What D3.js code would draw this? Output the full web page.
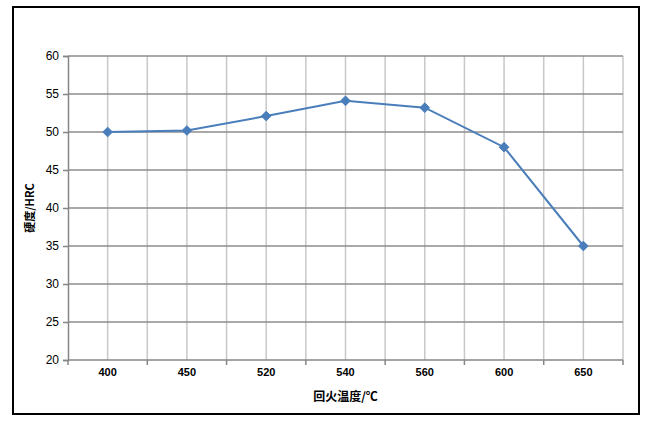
<!DOCTYPE html>
<html>
<head>
<meta charset="utf-8">
<script src="https://cdn.jsdelivr.net/npm/d3@7/dist/d3.min.js"></script>
<style>
html,body{margin:0;padding:0;background:#fff;}
svg{display:block;}
</style>
</head>
<body>
<svg id="chart" width="650" height="422"></svg>
<script>
const categories = ["400","450","520","540","560","600","650"];
const hardness = [50, 50.2, 52.1, 54.1, 53.2, 48, 35];
const yTicks = [20, 25, 30, 35, 40, 45, 50, 55, 60];
const xTitle = "回火温度/℃";
const yTitle = "硬度/HRC";

const svg = d3.select("#chart");
const m = {left: 68, right: 623, top: 56, bottom: 360};

// outer frame
svg.append("rect").attr("x", 13).attr("y", 7).attr("width", 626).attr("height", 407)
  .attr("fill", "#fff").attr("stroke", "#000").attr("stroke-width", 2);

const x = d3.scaleBand().domain(categories).range([m.left, m.right]).padding(0);
const y = d3.scaleLinear().domain([20, 60]).range([m.bottom, m.top]);

const g = svg.append("g");

const bounds = categories.map(c => x(c)).concat([m.right]);
const centers = categories.map(c => x(c) + x.bandwidth() / 2);
g.selectAll("line.vb").data(bounds.slice(1)).enter().append("line")
  .attr("x1", d => d).attr("x2", d => d).attr("y1", m.top).attr("y2", m.bottom)
  .attr("stroke", "#c8c8c8").attr("stroke-width", 1.5);
g.selectAll("line.vc").data(centers).enter().append("line")
  .attr("x1", d => d).attr("x2", d => d).attr("y1", m.top).attr("y2", m.bottom)
  .attr("stroke", "#c8c8c8").attr("stroke-width", 1.5);

g.selectAll("line.h").data(yTicks.filter(t => t > 20)).enter().append("line")
  .attr("x1", m.left).attr("x2", m.right).attr("y1", d => y(d)).attr("y2", d => y(d))
  .attr("stroke", "#8c8c8c").attr("stroke-width", 1.5);

const yAxis = svg.append("g").attr("transform", `translate(${m.left},0)`)
  .call(d3.axisLeft(y).tickValues(yTicks).tickSize(5).tickPadding(4).tickFormat(d3.format("d")));
yAxis.select(".domain").attr("stroke", "#868686").attr("stroke-width", 1.5);
yAxis.selectAll(".tick line").attr("stroke", "#868686").attr("stroke-width", 1.5);
yAxis.selectAll(".tick text").attr("font-family", "Liberation Sans, Arial, sans-serif")
  .attr("font-size", 12).attr("fill", "#000");

const xAxis = svg.append("g").attr("transform", `translate(0,${m.bottom})`);
xAxis.append("line").attr("x1", m.left).attr("x2", m.right).attr("y1", 0).attr("y2", 0)
  .attr("stroke", "#868686").attr("stroke-width", 1.5);
xAxis.selectAll("line.t").data(bounds).enter().append("line")
  .attr("x1", d => d).attr("x2", d => d).attr("y1", 0).attr("y2", 5)
  .attr("stroke", "#868686").attr("stroke-width", 1.5);
xAxis.selectAll("text").data(categories).enter().append("text")
  .attr("x", d => x(d) + x.bandwidth() / 2).attr("y", 16)
  .attr("text-anchor", "middle").attr("font-family", "Liberation Sans, Arial, sans-serif")
  .attr("font-size", 11).attr("font-weight", "bold").attr("fill", "#000").text(d => d);

const line = d3.line().x((d, i) => x(categories[i]) + x.bandwidth() / 2).y(d => y(d));
svg.append("path").datum(hardness).attr("d", line).attr("fill", "none")
  .attr("stroke", "#4a7ebb").attr("stroke-width", 2);

const sym = d3.symbol().type(d3.symbolDiamond2).size(60);
svg.selectAll("path.mk").data(hardness).enter().append("path")
  .attr("d", sym)
  .attr("transform", (d, i) => `translate(${x(categories[i]) + x.bandwidth() / 2},${y(d)})`)
  .attr("fill", "#4a7ebb").attr("stroke", "#4a7ebb").attr("stroke-width", 1);

svg.append("text").attr("x", (m.left + m.right) / 2).attr("y", 401)
  .attr("text-anchor", "middle").attr("font-family", "Noto Sans CJK SC, sans-serif")
  .attr("font-size", 12).attr("font-weight", "bold").attr("fill", "#000").text(xTitle);
svg.append("text").attr("transform", `translate(34,208) rotate(-90)`)
  .attr("text-anchor", "middle").attr("font-family", "Noto Sans CJK SC, sans-serif")
  .attr("font-size", 11).attr("font-weight", "bold").attr("fill", "#000").text(yTitle);
</script>
</body>
</html>
